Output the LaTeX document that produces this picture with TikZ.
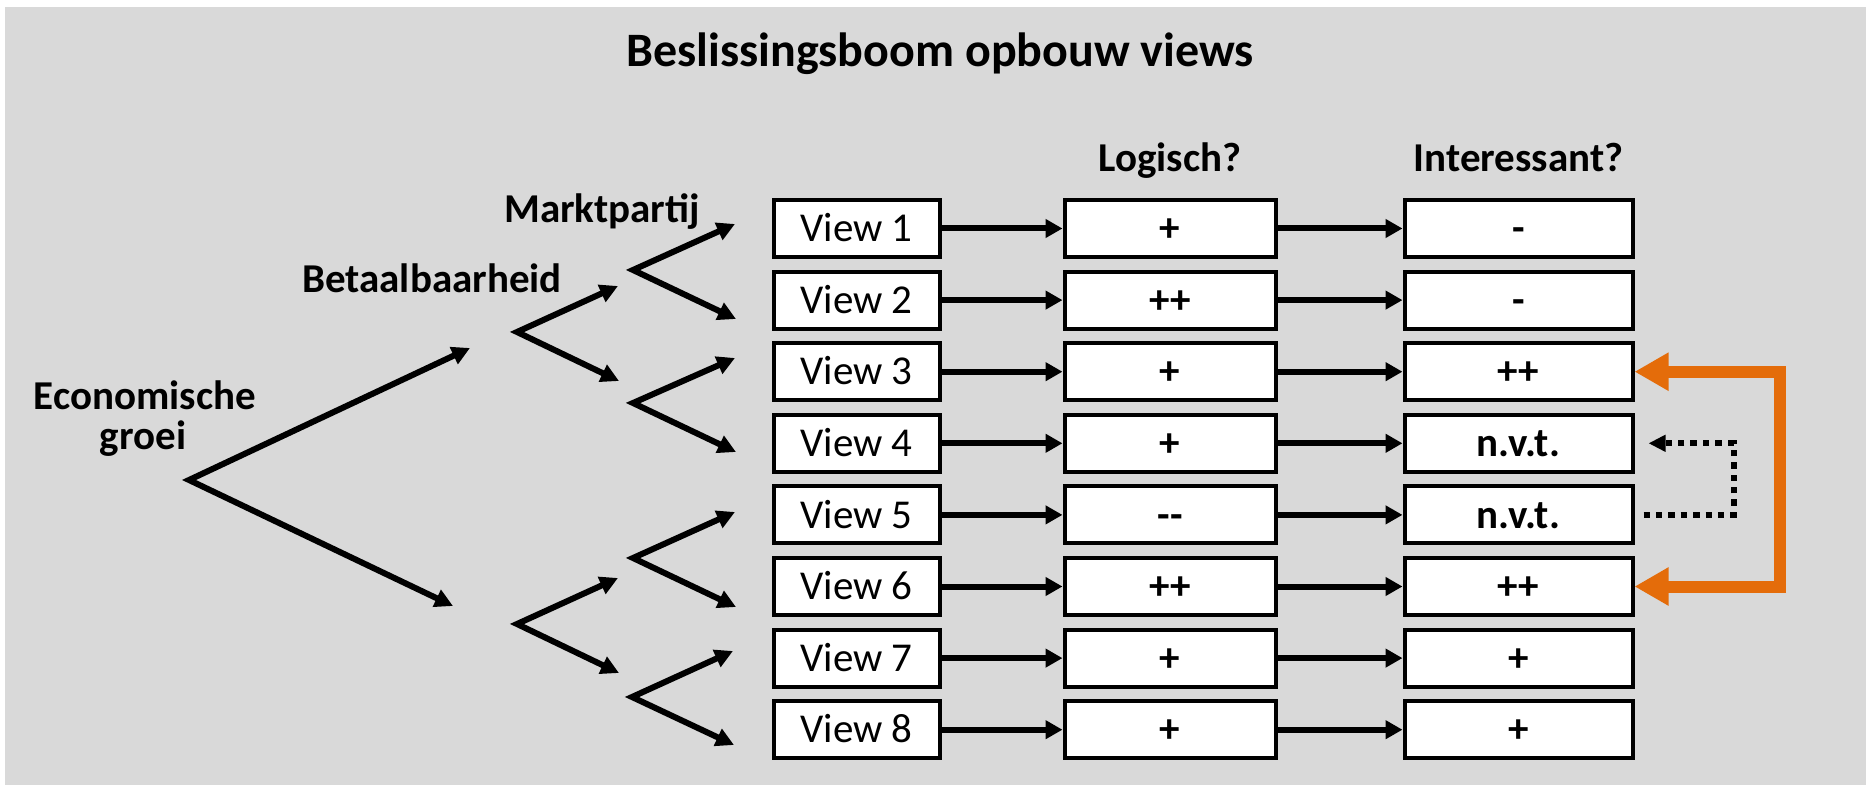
\documentclass[tikz,border=0pt]{standalone}
\usepackage{fontspec}
\setmainfont{Carlito}
\usetikzlibrary{arrows.meta}
\definecolor{panel}{HTML}{D9D9D9}
\definecolor{accent}{HTML}{E46C0A}

\begin{document}
\begin{tikzpicture}[x=0.5pt,y=-0.5pt,
  box/.style={draw=black, line width=2pt, fill=white, inner sep=0pt,
    minimum height=28.5pt, text height=13.2pt, text depth=0pt,
    font=\fontsize{20.5}{24}\selectfont},
  viewbox/.style={box, minimum width=83pt},
  logbox/.style={box, minimum width=105.5pt, font=\fontsize{20.5}{24}\selectfont\bfseries},
  intbox/.style={box, minimum width=114pt, font=\fontsize{20.5}{24}\selectfont\bfseries},
  flow/.style={line width=3pt, -{Triangle[length=8.5pt,width=9pt]}},
  fork/.style={line width=3pt, line join=miter,
    {Triangle[length=9pt,width=9pt]}-{Triangle[length=9pt,width=9pt]}},
  heading/.style={font=\fontsize{20.5}{24}\selectfont\bfseries, anchor=base, inner sep=0pt},
]
\useasboundingbox (0,0) rectangle (1866,785);
\fill[white] (0,0) rectangle (1866,785);
\fill[panel] (5,7) rectangle (1866,785);

% titles and column headings
\node[heading, font=\fontsize{24}{28}\selectfont\bfseries] (title) at (940,67) {Beslissingsboom opbouw views};
\node[heading] (hlog) at (1170,172) {Logisch?};
\node[heading] (hint) at (1518.5,172) {Interessant?};
\node[heading] (hmarkt) at (602,223) {Marktpartij};
\node[heading] (hbet) at (432,293) {Betaalbaarheid};
\node[heading] (heco) at (145,410) {Economische};
\node[heading] (hgroei) at (143,450) {groei};

% rows of views with their scores
\foreach \i/\logv/\intv in {1/+/-, 2/++/-, 3/+/++, 4/+/n.v.t., 5/{-{}-}/n.v.t., 6/++/++, 7/+/+, 8/+/+}{
  \pgfmathsetmacro\yy{228.5+71.6*(\i-1)}
  \node[viewbox] (V\i) at (856.5,\yy) {View \i};
  \node[logbox] (L\i) at (1170,\yy) {\logv};
  \node[intbox] (I\i) at (1518.5,\yy) {\intv};
  \draw[flow] (V\i) -- (L\i);
  \draw[flow] (L\i) -- (I\i);
}

% decision tree forks
\coordinate (e0) at (189,480);
\coordinate (e1) at (470,348);
\coordinate (e2) at (453,606);
\draw[fork] (e1) -- (e0) -- (e2);

\coordinate (b1) at (517,332);
\coordinate (b1u) at (618,286);
\coordinate (b1d) at (619,381);
\draw[fork] (b1u) -- (b1) -- (b1d);
\coordinate (b2) at (517,624);
\coordinate (b2u) at (618,578);
\coordinate (b2d) at (619,673);
\draw[fork] (b2u) -- (b2) -- (b2d);

\coordinate (m1) at (633,270);
\coordinate (m1u) at (735,224);
\coordinate (m1d) at (736,319);
\draw[fork] (m1u) -- (m1) -- (m1d);
\coordinate (m2) at (633,403);
\coordinate (m2u) at (735,358);
\coordinate (m2d) at (736,452);
\draw[fork] (m2u) -- (m2) -- (m2d);
\coordinate (m3) at (633,558);
\coordinate (m3u) at (735,512);
\coordinate (m3d) at (736,607);
\draw[fork] (m3u) -- (m3) -- (m3d);
\coordinate (m4) at (632,697);
\coordinate (m4u) at (733,651);
\coordinate (m4d) at (734,745);
\draw[fork] (m4u) -- (m4) -- (m4d);

% link between views 3 and 6
\draw[accent, line width=6pt, line join=miter,
  {Triangle[length=17pt,width=18pt]}-{Triangle[length=17pt,width=18pt]}]
  (I3.east) -- ++(145,0) |- (I6.east);

% view 5 refers to view 4
\draw[line width=3pt, dash pattern=on 3.2pt off 3pt,
  -{Triangle[length=8.5pt,width=8pt]}]
  ([xshift=4.5pt]I5.east) -- ++(90,0) |- ([xshift=7pt]I4.east);
\end{tikzpicture}
\end{document}
